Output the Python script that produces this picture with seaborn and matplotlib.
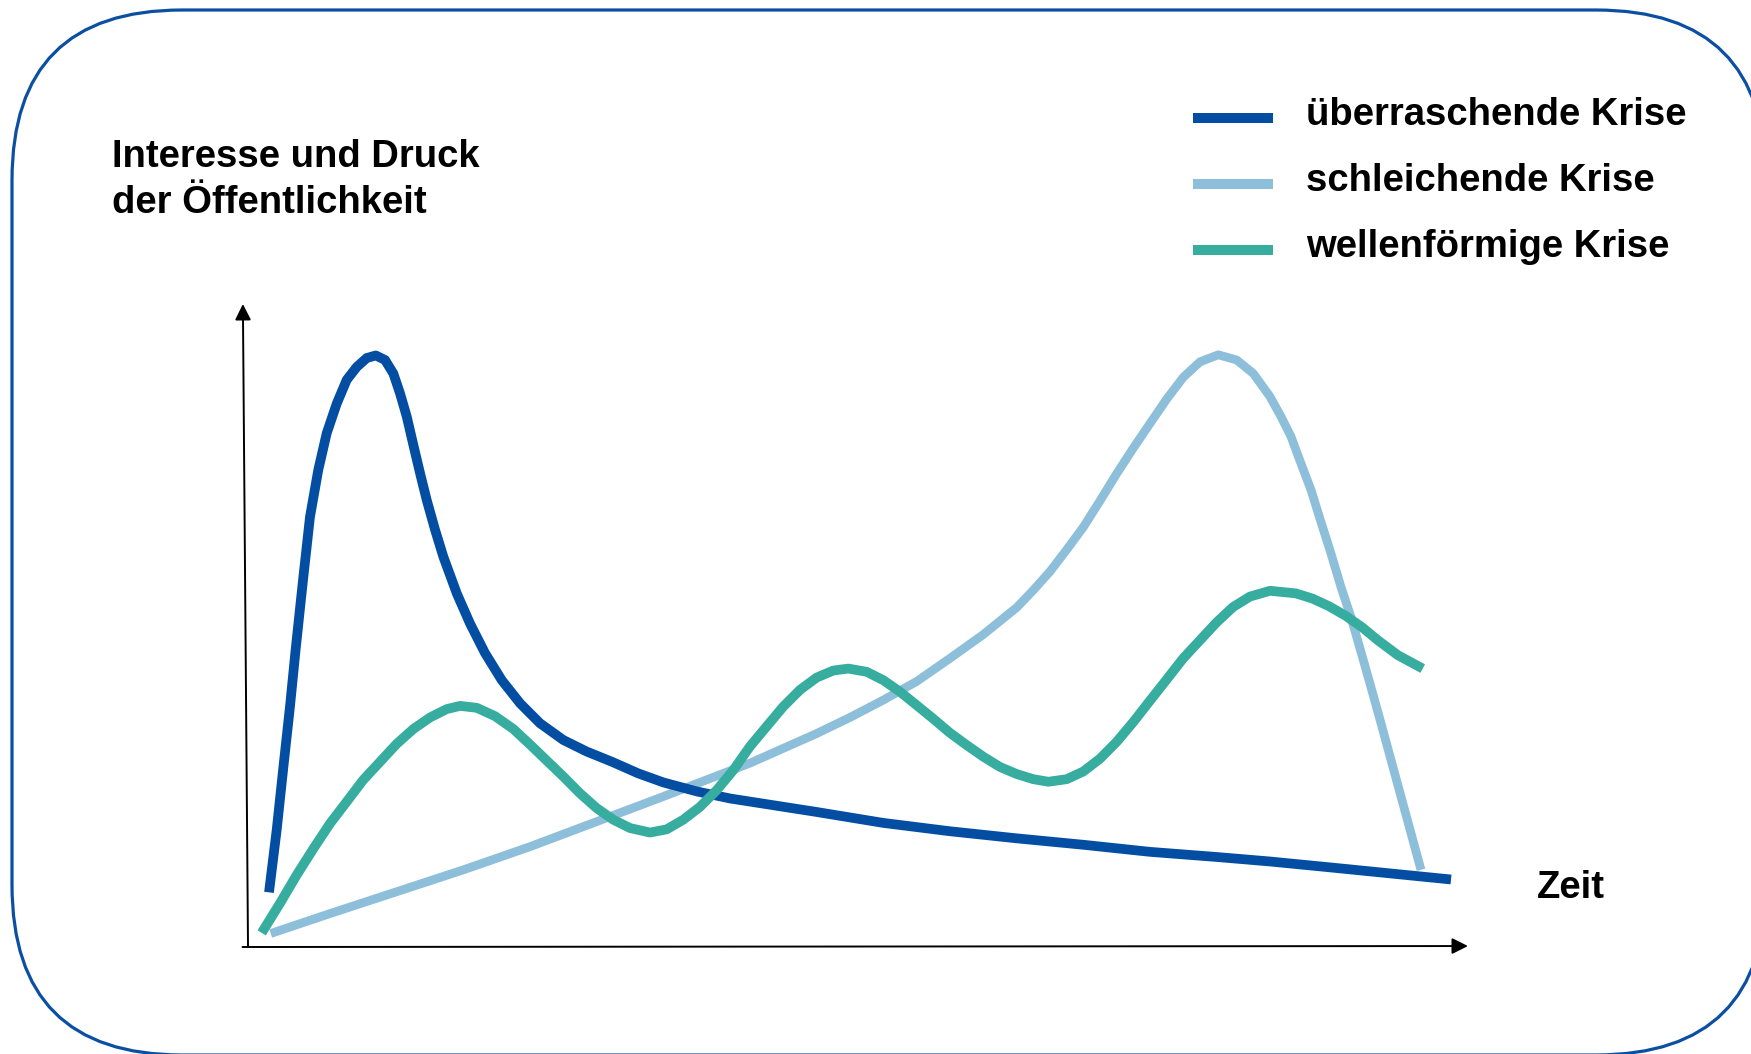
import numpy as np
import pandas as pd
import matplotlib
matplotlib.use("Agg")
import matplotlib.pyplot as plt
import matplotlib.colors as mcolors
import seaborn as sns
from matplotlib.patches import FancyBboxPatch
from matplotlib.transforms import IdentityTransform
from matplotlib.legend_handler import HandlerLine2D
from matplotlib.lines import Line2D

# ---------------- data (time 0..100, interest 0..100) ----------------
series_names = ["überraschende Krise", "schleichende Krise", "wellenförmige Krise"]
series_colors = ["#034ea2", "#8dbfdb", "#36ad9f"]

t_ueberraschend = [1.72, 2.35, 2.90, 3.44, 3.90, 4.51, 5.08, 5.76, 6.45, 7.27, 8.09, 8.91,
                   9.73, 10.47, 11.23, 11.91, 12.46, 13.01, 13.55, 14.10, 14.65, 15.33,
                   16.01, 17.11, 18.20, 19.43, 20.80, 22.30, 23.93, 25.84, 27.76, 29.84,
                   31.99, 34.04, 36.78, 39.51, 46.61, 52.07, 57.54, 63.01, 68.47, 73.93,
                   79.40, 83.77, 88.61, 98.61]
v_ueberraschend = [8.5, 18.2, 28.0, 37.4, 46.2, 57.1, 66.9, 74.2, 79.9, 84.5, 88.2, 90.2,
                   91.6, 92.0, 91.3, 89.2, 86.1, 82.5, 78.1, 73.7, 69.5, 64.9,
                   60.7, 55.0, 50.3, 45.7, 41.5, 37.9, 34.8, 32.2, 30.4, 28.8,
                   27.0, 25.6, 24.2, 23.1, 21.0, 19.3, 18.0, 16.9, 15.9, 14.8,
                   14.0, 13.3, 12.4, 10.5]

t_schleichend = [1.86, 6.72, 12.19, 17.65, 23.11, 28.58, 34.04, 41.15, 43.88, 46.61, 49.34,
                 52.07, 54.81, 57.54, 60.27, 63.01, 64.37, 65.74, 67.11, 68.47, 69.84,
                 71.20, 72.57, 73.93, 75.30, 76.66, 78.03, 79.53, 81.04, 82.40, 83.77,
                 84.67, 85.49, 86.31, 87.13, 87.95, 88.77, 89.59, 90.41, 91.23, 92.05,
                 92.87, 93.69, 94.51, 95.33, 96.15]
v_schleichend = [2.1, 5.2, 8.6, 12.0, 15.6, 19.5, 23.4, 28.6, 30.9, 33.2, 35.7,
                 38.4, 41.3, 44.9, 48.6, 52.8, 55.5, 58.4, 61.8, 65.3, 69.4,
                 73.6, 77.6, 81.4, 85.2, 88.6, 91.0, 92.1, 91.3, 89.2, 85.6,
                 82.5, 79.4, 75.2, 71.1, 66.1, 61.2, 56.0, 51.3, 45.9, 40.4,
                 34.8, 29.1, 23.4, 17.7, 12.0]

t_wellenfoermig = [1.12, 2.62, 3.99, 5.36, 6.72, 8.09, 9.45, 10.82, 12.19, 13.55, 14.92,
                   16.29, 17.38, 18.75, 20.25, 21.75, 23.11, 24.48, 25.85, 27.21, 28.58,
                   29.94, 31.31, 32.95, 34.32, 35.68, 37.05, 38.42, 39.78, 41.15, 42.51,
                   43.88, 45.25, 46.61, 47.98, 49.21, 50.71, 52.07, 53.44, 54.81, 56.17,
                   57.54, 58.91, 60.27, 61.64, 63.01, 64.37, 65.60, 67.11, 68.47, 69.84,
                   71.20, 72.57, 73.93, 75.30, 76.66, 78.03, 79.40, 80.76, 82.13, 83.77,
                   85.88, 87.24, 88.61, 89.98, 91.34, 92.62, 94.24, 96.29]
v_wellenfoermig = [2.2, 6.8, 11.2, 15.3, 19.2, 22.6, 26.0, 28.8, 31.6, 33.9, 35.7,
                   37.0, 37.5, 37.2, 35.9, 33.9, 31.5, 29.0, 26.5, 23.9, 21.6,
                   19.8, 18.5, 17.8, 18.3, 19.8, 21.8, 24.4, 27.5, 31.2, 34.3,
                   37.4, 40.0, 41.9, 43.0, 43.3, 42.8, 41.5, 39.7, 37.6, 35.5,
                   33.3, 31.4, 29.6, 28.0, 26.9, 26.1, 25.7, 26.1, 27.3, 29.3,
                   31.9, 35.0, 38.3, 41.6, 44.9, 47.7, 50.5, 52.9, 54.5, 55.4,
                   55.0, 54.2, 53.0, 51.5, 49.7, 47.7, 45.4, 43.3]

y_label_lines = ["Interesse und Druck", "der Öffentlichkeit"]
x_label = "Zeit"

# ---------------- build table ----------------
frames = []
for name, t, v in zip(series_names,
                      [t_ueberraschend, t_schleichend, t_wellenfoermig],
                      [v_ueberraschend, v_schleichend, v_wellenfoermig]):
    frames.append(pd.DataFrame({"Zeit": t, "Interesse": v, "Krise": name}))
df = pd.concat(frames, ignore_index=True)

# ---------------- style ----------------
sns.set_style("white")
plt.rcParams["font.family"] = ["Liberation Sans", "DejaVu Sans"]
plt.rcParams["text.color"] = "black"
FS = 27.5

W, H = 1751, 1054
fig = plt.figure(figsize=(W / 100, H / 100), dpi=100)
ax = fig.add_axes([0, 0, 1, 1])
ax.patch.set_alpha(0)

sns.lineplot(data=df, x="Zeit", y="Interesse", hue="Krise", hue_order=series_names,
             palette=series_colors, estimator=None, sort=False, linewidth=7, ax=ax)

widths = {mcolors.to_hex(series_colors[0]): 7.0,
          mcolors.to_hex(series_colors[1]): 6.3,
          mcolors.to_hex(series_colors[2]): 7.0}
zorders = {mcolors.to_hex(series_colors[0]): 3,
           mcolors.to_hex(series_colors[1]): 2,
           mcolors.to_hex(series_colors[2]): 4}
for ln in ax.lines:
    c = mcolors.to_hex(ln.get_color())
    if c in widths:
        ln.set_linewidth(widths[c])
        ln.set_zorder(zorders[c])
    ln.set_solid_capstyle("butt")
    ln.set_solid_joinstyle("round")

# data limits chosen so the plot fills the figure like the reference
ax.set_xlim(-20.33, 123.2)
ax.set_ylim(-16.64, 147.28)
ax.axis("off")

# axis arrows
arrow_kw = dict(arrowstyle="-|>", color="black", lw=1.4, mutation_scale=24,
                shrinkA=0, shrinkB=0)
ax.annotate("", xy=(100, 0.15), xytext=(-0.45, 0), arrowprops=arrow_kw, zorder=1)
ax.annotate("", xy=(-0.42, 100), xytext=(0, 0), arrowprops=arrow_kw, zorder=1)


# legend (handles sit slightly below the text centre, as in the reference)
class LowerLine(HandlerLine2D):
    def create_artists(self, legend, orig_handle, xdescent, ydescent, width, height,
                       fontsize, trans):
        arts = super().create_artists(legend, orig_handle, xdescent, ydescent, width,
                                      height, fontsize, trans)
        for a in arts:
            a.set_ydata(np.asarray(a.get_ydata(), float) - 0.17 * fontsize)
        return arts


handles, labels = ax.get_legend_handles_labels()
leg = ax.legend(handles, labels, loc="upper left",
                bbox_to_anchor=(1193 / W, 1 - 97 / H), bbox_transform=fig.transFigure,
                frameon=False, prop=dict(family=["Liberation Sans", "DejaVu Sans"],
                                         weight="bold", size=FS),
                labelcolor="black", handler_map={Line2D: LowerLine()},
                handlelength=2.1, handletextpad=0.85, labelspacing=0.78,
                borderpad=0, borderaxespad=0)
for h in leg.legend_handles:
    h.set_linewidth(7.2)
    h.set_solid_capstyle("butt")

# texts
fig.text(112 / W, 1 - 167 / H, y_label_lines[0], fontsize=FS, weight="bold",
         va="baseline", color="black")
fig.text(112 / W, 1 - 213 / H, y_label_lines[1], fontsize=FS, weight="bold",
         va="baseline", color="black")
fig.text(1537 / W, 1 - 898 / H, x_label, fontsize=FS, weight="bold",
         va="baseline", color="black")

# rounded frame: white filled (so the curved outline is not clipped at the canvas
# edge) and placed beneath the transparent axes
frame = FancyBboxPatch((12, -1), 1754, 1045, boxstyle="round,pad=0,rounding_size=170",
                       transform=IdentityTransform(), facecolor="white",
                       edgecolor="#0b4fa3", linewidth=2.3, zorder=-5)
fig.add_artist(frame)

fig.savefig("out.png", dpi=100, facecolor="white")
